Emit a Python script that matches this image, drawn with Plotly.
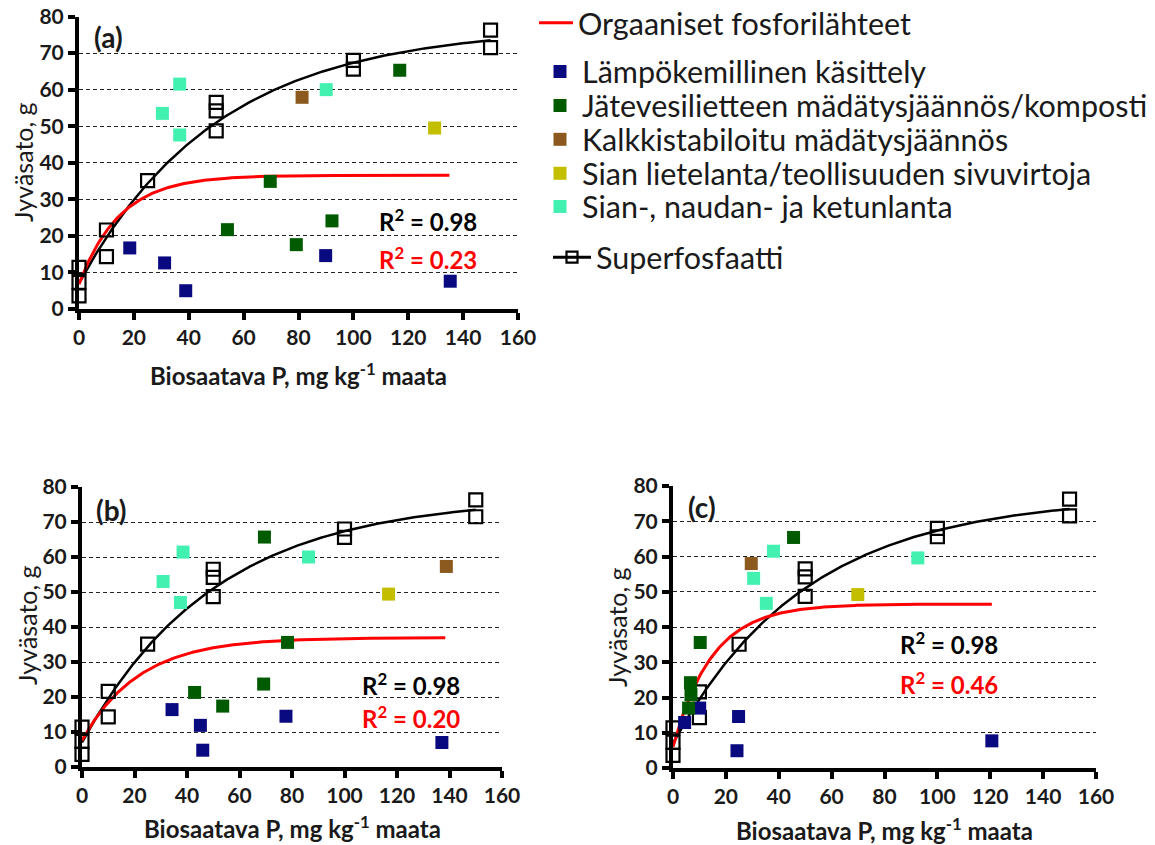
import numpy as np
import plotly.graph_objects as go

# page is 1155x845; the HTML body has an 8 px margin, so the figure is 8 px smaller
PAGE_W, PAGE_H = 1155, 845
OFF = 8
W, H = PAGE_W - OFF, PAGE_H - OFF

# ---------------- data ----------------
X_TICKS = [0, 20, 40, 60, 80, 100, 120, 140, 160]
Y_TICKS = [0, 10, 20, 30, 40, 50, 60, 70, 80]

SERIES_NAMES = [
    "Lämpökemillinen käsittely",
    "Jätevesilietteen mädätysjäännös/komposti",
    "Kalkkistabiloitu mädätysjäännös",
    "Sian lietelanta/teollisuuden sivuvirtoja",
    "Sian-, naudan- ja ketunlanta",
]
ORG_NAME = "Orgaaniset fosforilähteet"
SUPER_NAME = "Superfosfaatti"

# Superphosphate (same in all panels)
SUPER_X = [0, 0, 0, 10, 10, 25, 50, 50, 50, 100, 100, 150, 150]
SUPER_Y = [11.4, 7.3, 3.6, 21.6, 14.3, 35.1, 56.5, 54.2, 48.7, 68.0, 65.6, 76.3, 71.5]

# Panel (a)
A_LAMPO_X = [18.5, 31.2, 38.9, 89.9, 135.3]
A_LAMPO_Y = [16.7, 12.6, 5.0, 14.6, 7.6]
A_JATE_X = [54.1, 69.7, 79.2, 92.2, 116.9]
A_JATE_Y = [21.7, 34.9, 17.6, 24.1, 65.3]
A_KALKKI_X = [81.3]
A_KALKKI_Y = [57.9]
A_LIETE_X = [129.6]
A_LIETE_Y = [49.5]
A_LANTA_X = [30.4, 36.7, 36.7, 90.1]
A_LANTA_Y = [53.5, 61.5, 47.6, 60.0]

# Panel (b)
B_LAMPO_X = [34.3, 45.1, 46.0, 77.7, 137.1]
B_LAMPO_Y = [16.4, 11.9, 4.8, 14.5, 7.0]
B_JATE_X = [42.9, 53.6, 69.2, 78.3, 69.5]
B_JATE_Y = [21.3, 17.4, 23.7, 35.6, 65.7]
B_KALKKI_X = [138.8]
B_KALKKI_Y = [57.3]
B_LIETE_X = [116.8]
B_LIETE_Y = [49.4]
B_LANTA_X = [30.9, 38.5, 37.5, 86.3]
B_LANTA_Y = [53.0, 61.4, 47.0, 60.0]

# Panel (c)
C_LAMPO_X = [4.4, 10.1, 24.8, 24.2, 120.6]
C_LAMPO_Y = [12.9, 17.0, 14.6, 4.9, 7.7]
C_JATE_X = [10.3, 6.6, 6.8, 5.9, 45.6]
C_JATE_Y = [35.6, 24.2, 20.8, 17.0, 65.4]
C_KALKKI_X = [29.6]
C_KALKKI_Y = [58.0]
C_LIETE_X = [69.9]
C_LIETE_Y = [49.2]
C_LANTA_X = [30.5, 38.0, 35.3, 92.6]
C_LANTA_Y = [53.8, 61.5, 46.7, 59.6]

# Fitted exponential-rise curves: y = y0 + (plateau - y0) * (1 - exp(-k x))
SUPER_FIT = [7.0, 77.1, 0.01976]
SUPER_FIT_XMAX = 150
ORG_FIT_A = [6.8, 36.6, 0.067]
ORG_FIT_B = [7.6, 37.0, 0.046]
ORG_FIT_C = [6.0, 46.5, 0.068]
ORG_FIT_XMAX = [135, 138.4, 120.6]

R2_SUPER = ["0.98", "0.98", "0.98"]
R2_ORG = ["0.23", "0.20", "0.46"]
PANEL_LABELS = ["(a)", "(b)", "(c)"]

Y_TITLE = "Jyväsato, g"
X_TITLE = "Biosaatava P, mg kg<sup>-1</sup> maata"

# ---------------- styling ----------------
COLORS = ["#0A0A80", "#005A00", "#8C5A1E", "#C4BE00", "#42F0B0"]
RED = "#FF0000"
TXT = "#1a1a1a"
FONT = "Lato"


def fx(p):
    return (p - OFF) / W


def fy(p):
    return 1 - (p - OFF) / H


# panel pixel boxes (page coords): left, right, top, bottom
BOXES = [(79, 518, 16.5, 309), (82, 502, 487, 767), (673, 1096, 486, 768)]

panels = [
    dict(series=[(A_LAMPO_X, A_LAMPO_Y), (A_JATE_X, A_JATE_Y), (A_KALKKI_X, A_KALKKI_Y),
                 (A_LIETE_X, A_LIETE_Y), (A_LANTA_X, A_LANTA_Y)], org=ORG_FIT_A),
    dict(series=[(B_LAMPO_X, B_LAMPO_Y), (B_JATE_X, B_JATE_Y), (B_KALKKI_X, B_KALKKI_Y),
                 (B_LIETE_X, B_LIETE_Y), (B_LANTA_X, B_LANTA_Y)], org=ORG_FIT_B),
    dict(series=[(C_LAMPO_X, C_LAMPO_Y), (C_JATE_X, C_JATE_Y), (C_KALKKI_X, C_KALKKI_Y),
                 (C_LIETE_X, C_LIETE_Y), (C_LANTA_X, C_LANTA_Y)], org=ORG_FIT_C),
]


def rise(p, x):
    y0, top, k = p
    return y0 + (top - y0) * (1 - np.exp(-k * x))


fig = go.Figure()

for i, pan in enumerate(panels):
    xa = "x" if i == 0 else f"x{i+1}"
    ya = "y" if i == 0 else f"y{i+1}"
    first = i == 0
    # fitted curves
    xs = np.linspace(0, SUPER_FIT_XMAX, 300)
    fig.add_trace(go.Scatter(x=xs, y=rise(SUPER_FIT, xs), mode="lines",
                             line=dict(color="black", width=2.5),
                             showlegend=False, hoverinfo="skip",
                             xaxis=xa, yaxis=ya, cliponaxis=False))
    xo = np.linspace(0, ORG_FIT_XMAX[i], 300)
    fig.add_trace(go.Scatter(x=xo, y=rise(pan["org"], xo), mode="lines",
                             line=dict(color=RED, width=3),
                             name=ORG_NAME, showlegend=first, legend="legend",
                             xaxis=xa, yaxis=ya, cliponaxis=False))
    # superphosphate points
    fig.add_trace(go.Scatter(x=SUPER_X, y=SUPER_Y, mode="markers",
                             marker=dict(symbol="square-open", size=13, color="black",
                                         line=dict(width=2.2, color="black")),
                             showlegend=False, xaxis=xa, yaxis=ya, cliponaxis=False))
    # organic sources
    for j, (sx, sy) in enumerate(pan["series"]):
        fig.add_trace(go.Scatter(x=sx, y=sy, mode="markers",
                                 marker=dict(symbol="square", size=13, color=COLORS[j],
                                             line=dict(width=0)),
                                 name=SERIES_NAMES[j], showlegend=first,
                                 legend=f"legend{j+2}",
                                 xaxis=xa, yaxis=ya, cliponaxis=False))

# legend entry for superphosphate (line + open square)
fig.add_trace(go.Scatter(x=[None], y=[None], mode="lines+markers", name=SUPER_NAME,
                         line=dict(color="black", width=3),
                         marker=dict(symbol="square-open", size=11, color="black",
                                     line=dict(width=2.2, color="black")),
                         legend="legend7", showlegend=True))

axis_font = dict(family=FONT, size=21, color=TXT, weight="bold")
layout = dict(width=W, height=H, margin=dict(l=0, r=0, t=0, b=0, autoexpand=False),
              paper_bgcolor="white", plot_bgcolor="white", showlegend=True)

for i, (l, r, t, b) in enumerate(BOXES):
    xk = "xaxis" if i == 0 else f"xaxis{i+1}"
    yk = "yaxis" if i == 0 else f"yaxis{i+1}"
    layout[xk] = dict(domain=[fx(l), fx(r)], range=[0, 160], tickvals=X_TICKS,
                      anchor="y" if i == 0 else f"y{i+1}",
                      showline=True, linewidth=4, linecolor="black",
                      ticks="outside", ticklen=7, tickwidth=4, tickcolor="black",
                      showgrid=False, zeroline=False, tickfont=axis_font,
                      ticklabeloverflow="allow",
                      layer="below traces", fixedrange=True, automargin=False)
    layout[yk] = dict(domain=[fy(b), fy(t)], range=[0, 80], tickvals=Y_TICKS,
                      anchor="x" if i == 0 else f"x{i+1}",
                      showline=True, linewidth=4, linecolor="black",
                      ticks="outside", ticklen=7, tickwidth=4, tickcolor="black",
                      showgrid=True, gridcolor="#222222", gridwidth=1.2, griddash="4px,3px",
                      zeroline=False, tickfont=axis_font, ticklabeloverflow="allow",
                      layer="below traces", fixedrange=True, automargin=False)

# legends (one per entry for exact spacing): (left x, centre y, item width)
LEG_FONT = dict(family=FONT, size=30.5, color=TXT)
leg_pos = [(534, 23, 34), (538, 71.7, 34), (538, 105.7, 34), (538, 139.5, 34),
           (538, 173.3, 34), (538, 206.7, 34), (548, 257.3, 38)]
for n, (lx, ly, iw) in enumerate(leg_pos):
    key = "legend" if n == 0 else f"legend{n+1}"
    layout[key] = dict(x=fx(lx), y=fy(ly), xanchor="left", yanchor="middle",
                       font=LEG_FONT, itemwidth=iw, bgcolor="rgba(0,0,0,0)",
                       borderwidth=0)

ann = []
r2_pos = [((377, 220), (377, 258)), ((360, 684), (360, 717)), ((898, 643), (898, 683))]
lab_pos = [(92, 37), (94, 510), (686, 507)]
ytitle_pos = [(23, 162), (27, 625), (617, 627)]
xtitle_pos = [(298, 374), (292, 827), (884, 829)]
for i in range(3):
    (bx, by), (rx, ry) = r2_pos[i]
    ann.append(dict(x=fx(bx), y=fy(by), xref="paper", yref="paper", xanchor="left",
                    yanchor="middle", showarrow=False,
                    text=f"R<sup>2</sup> = {R2_SUPER[i]}",
                    font=dict(family=FONT, size=24, color="black", weight="bold")))
    ann.append(dict(x=fx(rx), y=fy(ry), xref="paper", yref="paper", xanchor="left",
                    yanchor="middle", showarrow=False,
                    text=f"R<sup>2</sup> = {R2_ORG[i]}",
                    font=dict(family=FONT, size=24, color=RED, weight="bold")))
    lx, ly = lab_pos[i]
    ann.append(dict(x=fx(lx), y=fy(ly), xref="paper", yref="paper", xanchor="left",
                    yanchor="middle", showarrow=False, text=PANEL_LABELS[i],
                    font=dict(family=FONT, size=28, color=TXT, weight="bold")))
    tx, ty = ytitle_pos[i]
    ann.append(dict(x=fx(tx), y=fy(ty), xref="paper", yref="paper", xanchor="center",
                    yanchor="middle", showarrow=False, text=Y_TITLE, textangle=-90,
                    font=dict(family=FONT, size=25, color=TXT)))
    tx, ty = xtitle_pos[i]
    ann.append(dict(x=fx(tx), y=fy(ty), xref="paper", yref="paper", xanchor="center",
                    yanchor="middle", showarrow=False, text=X_TITLE,
                    font=dict(family=FONT, size=24, color=TXT, weight="bold")))
layout["annotations"] = ann

fig.update_layout(**layout)
fig.write_html("out.html")
